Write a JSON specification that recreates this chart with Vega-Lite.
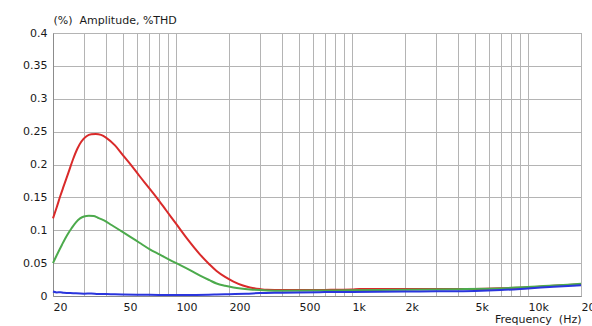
{
  "$schema": "https://vega.github.io/schema/vega-lite/v6.json",
  "width": 528,
  "height": 263,
  "autosize": {"type": "none"},
  "padding": {"left": 53, "top": 33, "right": 11, "bottom": 30},
  "background": "white",
  "config": {
    "font": "DejaVu Sans",
    "view": {"stroke": "#8c8c8c", "strokeWidth": 1},
    "axis": {"labelFont": "DejaVu Sans", "titleFont": "DejaVu Sans", "labelFontSize": 11, "titleFontSize": 11, "labelColor": "#1a1a1a", "titleColor": "#1a1a1a", "titleFontWeight": "normal"}
  },
  "datasets": {
    "red": [
      {"f": 20, "v": 0.118}, {"f": 21, "v": 0.135}, {"f": 22, "v": 0.152}, {"f": 23, "v": 0.167},
      {"f": 24.5, "v": 0.188}, {"f": 26, "v": 0.208}, {"f": 27.5, "v": 0.224}, {"f": 29, "v": 0.235},
      {"f": 31, "v": 0.243}, {"f": 33, "v": 0.246}, {"f": 35, "v": 0.2465}, {"f": 37.5, "v": 0.245},
      {"f": 40, "v": 0.241}, {"f": 45, "v": 0.229}, {"f": 50, "v": 0.214}, {"f": 56, "v": 0.198},
      {"f": 62, "v": 0.1825}, {"f": 70, "v": 0.165}, {"f": 78, "v": 0.149}, {"f": 88, "v": 0.130},
      {"f": 100, "v": 0.110}, {"f": 115, "v": 0.088}, {"f": 137, "v": 0.063}, {"f": 155, "v": 0.048},
      {"f": 170, "v": 0.038}, {"f": 190, "v": 0.029}, {"f": 212, "v": 0.022}, {"f": 240, "v": 0.016},
      {"f": 263, "v": 0.013}, {"f": 300, "v": 0.0105}, {"f": 330, "v": 0.0094}, {"f": 400, "v": 0.009},
      {"f": 500, "v": 0.009}, {"f": 700, "v": 0.0093}, {"f": 1000, "v": 0.0099}, {"f": 1100, "v": 0.0106},
      {"f": 2000, "v": 0.0107}, {"f": 3000, "v": 0.0107}, {"f": 4200, "v": 0.0107}, {"f": 5000, "v": 0.0108},
      {"f": 7000, "v": 0.0117}, {"f": 10000, "v": 0.0132}, {"f": 14000, "v": 0.0155}, {"f": 20000, "v": 0.0178}
    ],
    "green": [
      {"f": 20, "v": 0.050}, {"f": 21, "v": 0.062}, {"f": 22.5, "v": 0.078}, {"f": 24, "v": 0.092},
      {"f": 25.5, "v": 0.103}, {"f": 27, "v": 0.112}, {"f": 28.5, "v": 0.118}, {"f": 30, "v": 0.121},
      {"f": 32, "v": 0.122}, {"f": 34, "v": 0.1215}, {"f": 36, "v": 0.119}, {"f": 39, "v": 0.115},
      {"f": 43, "v": 0.108}, {"f": 48, "v": 0.100}, {"f": 55, "v": 0.090}, {"f": 62, "v": 0.081},
      {"f": 71, "v": 0.071}, {"f": 81, "v": 0.063}, {"f": 92, "v": 0.055}, {"f": 105, "v": 0.0475},
      {"f": 120, "v": 0.0395}, {"f": 137, "v": 0.031}, {"f": 155, "v": 0.024}, {"f": 170, "v": 0.019},
      {"f": 190, "v": 0.0155}, {"f": 212, "v": 0.013}, {"f": 263, "v": 0.010}, {"f": 330, "v": 0.0085},
      {"f": 400, "v": 0.008}, {"f": 600, "v": 0.0082}, {"f": 1000, "v": 0.0088}, {"f": 2000, "v": 0.0095},
      {"f": 4000, "v": 0.0103}, {"f": 6000, "v": 0.0112}, {"f": 9400, "v": 0.0132}, {"f": 14000, "v": 0.016},
      {"f": 20000, "v": 0.0185}
    ],
    "blue": [
      {"f": 20, "v": 0.0068}, {"f": 21, "v": 0.0055}, {"f": 22, "v": 0.0058}, {"f": 23, "v": 0.0048},
      {"f": 25, "v": 0.0046}, {"f": 27, "v": 0.0040}, {"f": 30, "v": 0.0036}, {"f": 33, "v": 0.0038},
      {"f": 36, "v": 0.0030}, {"f": 40, "v": 0.0029}, {"f": 45, "v": 0.0025}, {"f": 50, "v": 0.0023},
      {"f": 60, "v": 0.0020}, {"f": 70, "v": 0.0018}, {"f": 80, "v": 0.0017}, {"f": 100, "v": 0.0016},
      {"f": 130, "v": 0.0016}, {"f": 170, "v": 0.0022}, {"f": 200, "v": 0.0028}, {"f": 250, "v": 0.0035},
      {"f": 300, "v": 0.0044}, {"f": 400, "v": 0.0050}, {"f": 500, "v": 0.0055}, {"f": 700, "v": 0.0059},
      {"f": 1000, "v": 0.0062}, {"f": 2000, "v": 0.0068}, {"f": 3000, "v": 0.0071}, {"f": 5000, "v": 0.0077},
      {"f": 7000, "v": 0.0090}, {"f": 10000, "v": 0.0115}, {"f": 14000, "v": 0.0140}, {"f": 20000, "v": 0.0165}
    ]
  },
  "resolve": {"axis": {"x": "independent"}},
  "encoding": {
    "y": {"field": "v", "type": "quantitative", "scale": {"domain": [0, 0.4], "nice": false, "zero": true},
      "axis": {"values": [0,0.05,0.1,0.15,0.2,0.25,0.3,0.35,0.4], "format": "~g", "grid": true, "gridColor": "#b4b4b4", "ticks": false, "domainColor": "#8c8c8c", "labelPadding": 6,
        "title": "(%) \u00a0Amplitude, %THD", "titleAngle": 0, "titleAlign": "left", "titleBaseline": "alphabetic", "titleX": 0, "titleY": -10}}
  },
  "layer": [
    {
      "data": {"name": "red"},
      "mark": {"type": "line", "color": "#d92a2a", "strokeWidth": 2, "interpolate": "monotone"},
      "encoding": {
        "x": {"field": "f", "type": "quantitative", "scale": {"type": "log", "domain": [20, 20000], "nice": false},
          "axis": {"orient": "top", "grid": true, "gridColor": "#b4b4b4", "gridWidth": 1, "labels": false, "ticks": false, "domain": false, "title": null,
            "values": [20,30,40,50,60,70,80,90,100,200,300,400,500,600,700,800,900,1000,2000,3000,4000,5000,6000,7000,8000,9000,10000,20000]}}
      }
    },
    {
      "data": {"name": "green"},
      "mark": {"type": "line", "color": "#4caa4c", "strokeWidth": 2, "interpolate": "monotone"},
      "encoding": {
        "x": {"field": "f", "type": "quantitative",
          "axis": {"orient": "bottom", "grid": false, "ticks": false, "domainColor": "#8c8c8c", "labelAlign": "left", "labelPadding": 5, "labelFlush": false,
            "values": [20,50,100,200,500,1000,2000,5000,10000,20000],
            "labelExpr": "datum.value >= 1000 ? (datum.value/1000) + 'k' : datum.value",
            "title": "Frequency \u00a0(Hz)", "titleAlign": "right", "titleAnchor": null, "titleX": 528, "titleY": 26, "titleBaseline": "alphabetic"}}
      }
    },
    {
      "data": {"name": "blue"},
      "mark": {"type": "line", "color": "#2a35dd", "strokeWidth": 2, "interpolate": "monotone"},
      "encoding": {
        "x": {"field": "f", "type": "quantitative", "axis": null}
      }
    }
  ]
}
